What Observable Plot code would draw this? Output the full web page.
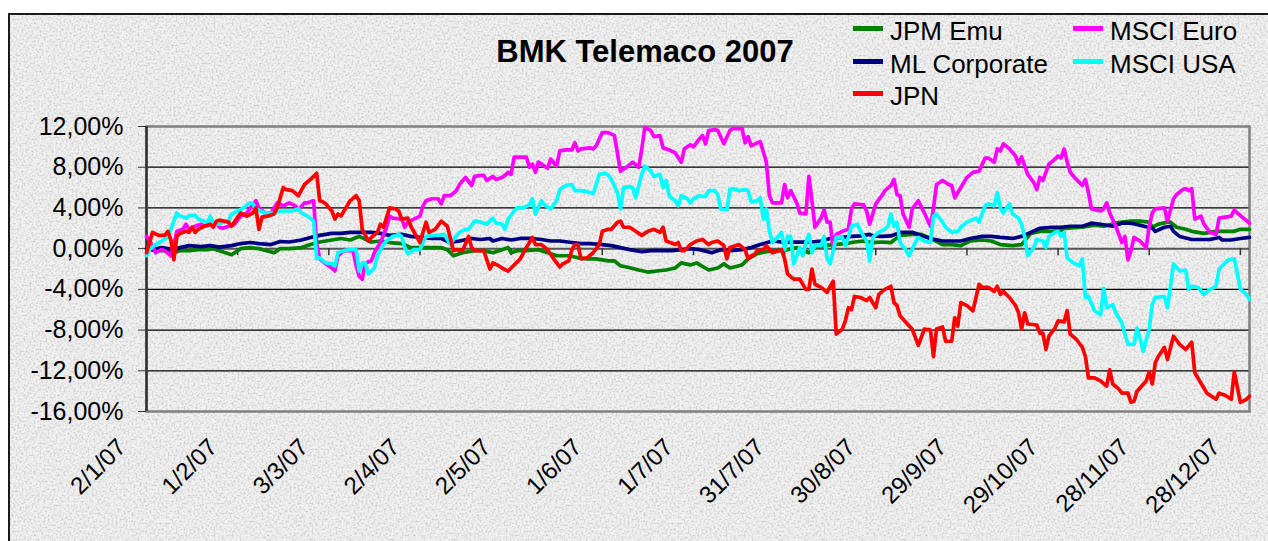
<!DOCTYPE html>
<html>
<head>
<meta charset="utf-8">
<script src="https://cdn.jsdelivr.net/npm/d3@7"></script>
<script src="https://cdn.jsdelivr.net/npm/@observablehq/plot@0.6"></script>
<style>
html, body { margin: 0; padding: 0; background: #fff; overflow: hidden; }
#wrap { position: relative; width: 1268px; height: 541px; overflow: hidden; font-family: "Liberation Sans", Arial, sans-serif; }
#bg { position: absolute; left: 8px; top: 13px; width: 1320px; height: 600px; border-left: 2px solid #1a1a1a; border-top: 2px solid #1a1a1a; background-color: #e6e6e6; overflow: hidden; }
#bg svg { display: block; }
#chart { position: absolute; left: 0; top: 0; }
#title { position: absolute; left: 0; width: 1290px; top: 36px; text-align: center; font-weight: bold; font-size: 31px; line-height: 31px; color: #000; }
.legline { position: absolute; width: 30px; height: 5px; }
.legtext { position: absolute; font-size: 26px; line-height: 26px; color: #000; white-space: nowrap; }
</style>
</head>
<body>
<div id="wrap">
  <div id="bg">
    <svg xmlns="http://www.w3.org/2000/svg" width="1320" height="600">
      <filter id="granite" x="0" y="0" width="100%" height="100%">
        <feTurbulence type="fractalNoise" baseFrequency="0.5" numOctaves="3" seed="11"/>
        <feColorMatrix type="matrix" values="0 0 0 0 0.62  0 0 0 0 0.62  0 0 0 0 0.62  0 0 0 2.6 -1.08"/>
      </filter>
      <rect width="1320" height="600" fill="#f2f2f2"/>
      <rect width="1320" height="600" filter="url(#granite)"/>
    </svg>
  </div>
  <div id="chart"></div>
  <div id="title"></div>
  <div id="legend"></div>
</div>
<script>
// ---------------- DATA ----------------
const chartTitle = "BMK Telemaco 2007";
const startDate = "2007-01-02"; // day 0 of the series below
const xTickLabels = ["2/1/07","1/2/07","3/3/07","2/4/07","2/5/07","1/6/07","1/7/07","31/7/07","30/8/07","29/9/07","29/10/07","28/11/07","28/12/07"];
const yTicks = [-16, -12, -8, -4, 0, 4, 8, 12];
const lastDay = 363;

// [day offset from startDate, cumulative return %]
const jpmEmu = [[0,0],[3,-0.2],[7,-0.2],[9,-0.4],[11,-0.2],[14,-0.2],[17,-0.1],[20,-0.1],[22,0],[25,-0.3],[28,-0.6],[31,0],[34,0.1],[37,0],[42,-0.4],[44,0],[47,0],[51,0.1],[54,0.4],[57,0.65],[61,0.85],[64,1.0],[67,0.85],[70,1.2],[74,0.65],[77,0.75],[80,0.6],[84,0.5],[87,0.1],[90,0.1],[94,0.1],[97,0.1],[99,-0.1],[101,-0.7],[104,-0.4],[108,-0.2],[111,-0.2],[114,-0.4],[117,-0.1],[119,0.1],[120,-0.4],[122,-0.2],[125,-0.2],[129,-0.1],[132,-0.4],[135,-0.7],[139,-0.7],[142,-0.9],[145,-1.0],[148,-1.0],[152,-1.2],[154,-1.2],[156,-1.7],[158,-1.8],[162,-2.1],[165,-2.3],[168,-2.2],[171,-2.1],[174,-1.9],[176,-1.4],[179,-1.6],[181,-1.4],[185,-2.1],[188,-1.9],[190,-1.5],[192,-1.9],[196,-1.6],[198,-1.0],[201,-0.5],[204,-0.3],[208,-0.2],[211,-0.1],[214,0.1],[218,-0.4],[220,0.1],[223,0.3],[226,0.4],[230,0.5],[233,0.65],[236,0.75],[239,0.6],[242,0.65],[245,0.6],[248,1.3],[252,1.4],[255,1.4],[258,1.0],[262,0.4],[265,0.4],[268,0.3],[271,0.75],[275,0.85],[278,0.75],[281,0.4],[285,0.3],[288,0.4],[291,1.5],[294,1.7],[298,1.7],[301,1.8],[302,2.0],[308,2.1],[312,2.3],[315,2.2],[319,2.5],[321,2.6],[324,2.7],[327,2.7],[330,2.6],[331,2.1],[333,2.4],[336,2.6],[337,2.6],[339,2.1],[342,1.9],[344,1.7],[346,1.6],[348,1.5],[352,1.7],[355,1.7],[358,1.7],[360,1.9],[363,1.9]];

const mlCorporate = [[0,0],[2,-0.1],[5,0.1],[7,0],[9,-0.1],[11,0.1],[14,0.3],[18,0.2],[21,0.3],[24,0.15],[28,0.3],[31,0.5],[34,0.6],[37,0.5],[41,0.4],[44,0.7],[47,0.65],[51,0.85],[54,1.1],[57,1.3],[61,1.5],[64,1.5],[67,1.6],[71,1.6],[74,1.6],[77,1.5],[80,1.3],[84,1.4],[87,1.2],[90,1.1],[94,1.0],[97,1.0],[100,0.6],[103,0.75],[107,1.0],[110,0.9],[113,1.0],[114,0.75],[117,1.0],[120,0.85],[123,1.0],[127,1.0],[130,0.9],[133,0.75],[136,0.75],[140,0.6],[143,0.5],[146,0.5],[150,0.4],[153,0.3],[156,0.1],[159,-0.1],[163,-0.3],[166,-0.2],[169,-0.2],[173,-0.2],[176,-0.1],[179,0],[182,-0.1],[186,-0.4],[189,-0.1],[192,-0.2],[196,-0.1],[199,0.1],[202,0.4],[206,0.75],[209,0.65],[212,0.65],[215,0.65],[219,0.65],[222,0.75],[225,1.0],[229,1.1],[232,1.2],[235,1.25],[238,1.4],[239,1.25],[242,1.2],[245,1.25],[248,1.6],[252,1.6],[255,1.3],[258,1.0],[262,0.75],[265,0.75],[268,0.75],[271,1.0],[275,1.2],[278,1.2],[281,1.1],[285,1.0],[288,1.2],[291,1.6],[294,2.0],[298,2.1],[301,2.1],[304,2.2],[308,2.2],[311,2.5],[314,2.4],[318,2.2],[321,2.5],[324,2.5],[327,2.3],[331,2.0],[332,1.7],[335,2.1],[337,2.2],[338,1.7],[340,1.2],[344,0.9],[347,0.9],[350,0.9],[353,1.1],[354,0.85],[357,0.85],[360,1.0],[363,1.1]];

const msciEuro = [[0,1.2],[1,0.85],[3,-0.4],[5,-0.1],[6,-0.2],[8,-0.7],[9,0.4],[10,1.7],[12,1.9],[13,2.4],[14,1.9],[16,2.2],[18,2.4],[19,2.2],[22,2.4],[23,2.5],[24,2.1],[25,2.0],[27,2.2],[29,2.4],[31,3.2],[33,3.5],[34,3.9],[36,4.7],[37,4.0],[39,3.5],[41,3.5],[43,4.5],[45,4.2],[47,4.5],[49,4.2],[50,3.8],[52,4.5],[53,4.5],[55,4.7],[56,0.5],[57,-1.0],[59,-1.5],[61,-1.9],[62,-2.2],[63,-0.7],[65,-0.2],[67,-0.2],[68,-0.2],[69,-1.7],[70,-2.7],[71,-3.0],[72,-1.4],[74,-1.2],[75,-0.4],[77,0.6],[79,2.1],[80,3.2],[81,3.0],[84,2.9],[85,2.1],[86,2.6],[88,2.9],[90,3.2],[91,4.2],[92,4.7],[94,4.9],[96,4.9],[97,4.4],[98,5.2],[100,5.2],[102,5.7],[103,6.3],[105,7.0],[107,6.2],[108,7.1],[110,7.2],[111,7.2],[112,6.7],[114,7.1],[115,6.8],[117,7.0],[118,7.2],[119,7.5],[120,7.3],[121,9.0],[123,9.0],[125,9.0],[126,8.0],[127,8.3],[128,7.5],[129,8.5],[131,8.1],[132,7.9],[133,8.8],[135,8.1],[136,9.6],[138,9.7],[140,9.7],[141,10.4],[142,9.6],[143,9.8],[146,9.9],[147,9.8],[148,10.1],[150,11.4],[152,11.4],[154,11.1],[156,7.6],[158,8.0],[160,8.5],[162,8.0],[163,9.8],[164,11.9],[166,11.6],[167,11.0],[169,11.1],[170,9.9],[172,9.7],[174,9.4],[176,8.5],[177,9.8],[179,10.2],[180,10.0],[182,10.8],[183,11.1],[184,10.3],[185,11.6],[187,11.7],[188,11.6],[190,10.3],[192,11.6],[193,11.8],[196,11.8],[197,10.4],[198,11.0],[199,10.1],[201,10.4],[202,10.5],[204,8.5],[205,5.2],[206,4.5],[209,4.5],[210,6.3],[211,5.0],[212,5.7],[214,4.5],[215,3.5],[217,3.4],[218,7.1],[219,4.7],[220,2.1],[222,3.0],[223,3.8],[224,2.6],[225,2.6],[226,-0.1],[227,1.4],[229,1.7],[231,1.9],[232,3.9],[233,4.4],[236,4.3],[237,3.7],[238,2.4],[240,4.4],[242,5.2],[243,5.7],[245,6.2],[246,6.8],[247,5.3],[248,5.2],[249,3.4],[251,2.1],[252,3.9],[254,4.7],[256,3.5],[258,2.2],[259,4.0],[260,6.3],[262,6.7],[264,6.3],[265,6.2],[266,5.0],[268,6.0],[270,7.0],[272,7.5],[274,7.6],[276,8.9],[277,8.9],[279,8.5],[280,9.8],[281,9.6],[282,10.3],[284,9.8],[286,9.1],[287,8.3],[288,9.0],[290,7.3],[292,6.5],[293,5.8],[294,7.0],[295,6.7],[297,8.3],[299,8.8],[300,9.1],[301,8.9],[302,9.8],[303,8.5],[304,7.5],[306,6.8],[308,6.2],[309,6.8],[310,5.5],[311,3.9],[314,3.7],[315,3.9],[316,4.5],[317,3.5],[319,2.2],[321,0.6],[322,1.2],[323,-1.1],[324,-0.2],[325,1.1],[327,0.75],[329,0.1],[330,2.2],[331,3.5],[332,3.9],[335,4.0],[336,2.7],[338,4.9],[339,5.3],[341,5.8],[342,5.9],[343,5.7],[344,5.9],[345,2.9],[347,3.2],[348,2.4],[350,1.6],[352,1.4],[353,3.0],[355,3.1],[357,3.2],[358,3.8],[359,3.5],[361,3.0],[363,2.5]];

const msciUsa = [[0,-0.7],[1,-0.1],[3,0.4],[5,0.75],[7,1.1],[8,1.9],[10,3.5],[11,3.2],[13,3.0],[14,3.2],[16,3.3],[17,2.9],[19,2.7],[20,2.5],[21,3.2],[22,2.4],[24,2.4],[25,2.6],[27,2.7],[28,3.4],[30,3.7],[32,4.0],[34,4.5],[35,4.4],[36,3.9],[39,3.5],[42,3.5],[44,3.7],[46,3.7],[48,3.7],[50,3.9],[51,3.5],[53,3.2],[55,2.7],[56,-1.0],[57,-0.9],[59,-1.4],[61,-1.5],[62,-1.7],[63,-0.4],[65,-0.2],[67,-0.1],[69,-0.1],[70,-2.2],[71,-1.4],[72,-1.4],[73,-2.5],[75,-1.9],[76,-0.7],[78,0.4],[79,0.75],[81,1.2],[83,1.4],[84,1.2],[85,0.1],[86,-0.5],[88,-0.1],[90,-0.1],[91,0.6],[92,1.2],[95,1.3],[96,1.3],[98,1.4],[100,0.4],[101,0.9],[103,1.6],[105,1.9],[106,1.9],[108,2.7],[110,2.6],[112,2.4],[114,3.0],[115,2.5],[117,2.4],[118,1.9],[119,2.9],[121,3.7],[122,4.0],[124,4.0],[126,4.3],[127,4.9],[128,3.4],[130,4.7],[131,4.3],[133,3.9],[135,4.7],[136,5.8],[138,6.2],[140,6.3],[141,5.7],[143,5.7],[145,5.6],[147,5.4],[148,6.3],[149,7.3],[151,7.4],[152,7.2],[153,6.8],[155,5.5],[156,3.9],[157,6.0],[159,6.1],[160,6.0],[161,5.0],[163,7.3],[164,8.1],[166,7.6],[167,7.1],[169,7.3],[170,6.0],[171,6.7],[172,5.2],[174,4.7],[175,4.2],[176,5.2],[178,4.9],[179,4.5],[180,4.9],[182,5.2],[184,5.1],[185,5.7],[187,5.7],[188,5.3],[189,3.9],[191,3.8],[192,5.8],[193,5.9],[195,5.7],[197,5.8],[198,5.7],[199,4.6],[201,4.7],[202,5.0],[203,2.9],[204,3.9],[205,1.7],[206,0.6],[208,1.2],[209,1.6],[210,-0.1],[211,1.2],[212,1.2],[213,-1.5],[215,0.1],[216,-0.7],[217,0.6],[218,1.4],[219,-0.4],[220,0.3],[222,0.3],[223,1.2],[224,-1.0],[225,-1.5],[227,1.1],[229,1.1],[230,0.3],[231,1.1],[232,2.2],[234,2.4],[235,1.7],[237,0.75],[238,-1.2],[239,1.1],[241,1.6],[243,1.9],[244,2.2],[245,3.4],[246,2.2],[247,2.6],[248,0.6],[250,-0.2],[251,-0.7],[253,0.6],[254,1.1],[256,0.75],[258,0.6],[259,3.2],[260,3.4],[262,2.6],[263,2.1],[265,1.6],[267,1.7],[268,2.1],[270,2.6],[273,3.0],[274,2.6],[276,4.2],[277,4.4],[279,4.2],[280,5.5],[281,4.0],[282,3.5],[284,4.4],[285,3.4],[287,3.0],[288,2.4],[289,1.2],[290,-0.7],[292,0.1],[293,0.9],[295,0.75],[296,0.1],[297,1.2],[299,1.6],[300,1.7],[301,1.2],[302,1.6],[303,-0.9],[305,-1.4],[307,-1.7],[308,-1.0],[309,-4.8],[310,-4.7],[312,-6.1],[313,-6.3],[314,-6.5],[315,-3.9],[316,-5.8],[318,-5.5],[319,-6.3],[321,-7.3],[322,-8.4],[323,-9.4],[325,-9.4],[326,-7.8],[327,-8.8],[328,-10.1],[330,-7.9],[331,-5.5],[332,-4.8],[335,-4.7],[336,-5.8],[337,-3.7],[338,-1.5],[340,-2.2],[342,-2.1],[343,-4.0],[344,-3.7],[346,-3.8],[348,-4.5],[350,-4.0],[352,-3.7],[353,-2.0],[354,-1.7],[356,-1.1],[358,-1.0],[359,-2.4],[360,-4.0],[362,-4.5],[363,-5.0]];

const jpn = [[0,-0.4],[2,1.6],[4,1.3],[6,1.3],[7,1.7],[8,0.9],[9,-1.1],[10,1.2],[11,1.5],[13,1.7],[14,1.6],[15,2.1],[16,1.6],[17,1.9],[19,2.2],[21,2.4],[22,2.1],[23,2.7],[24,2.8],[27,2.6],[28,2.2],[30,3.1],[31,3.5],[33,3.2],[35,3.5],[36,4.0],[37,1.9],[38,3.1],[40,3.2],[42,3.4],[43,4.0],[45,6.0],[46,5.8],[48,5.7],[50,5.2],[52,6.3],[54,6.8],[56,7.4],[57,4.7],[58,4.6],[59,4.4],[61,3.7],[62,2.9],[63,3.4],[64,3.2],[66,4.2],[67,4.7],[69,5.2],[70,4.7],[71,1.9],[73,0.75],[74,1.1],[76,1.6],[77,2.4],[78,2.1],[80,4.0],[82,3.9],[83,3.7],[84,2.9],[86,3.0],[87,2.2],[90,0.6],[92,2.6],[93,1.6],[95,1.9],[97,2.7],[99,2.2],[101,-0.2],[102,-0.1],[104,-0.2],[106,1.2],[107,0.1],[108,-0.2],[111,-0.2],[113,-2.0],[114,-1.4],[116,-1.7],[117,-1.9],[119,-2.2],[120,-1.9],[123,-1.0],[125,0.1],[127,1.1],[128,0.4],[130,0.4],[132,-0.1],[134,-1.0],[136,-1.8],[137,-1.5],[139,-1.2],[140,-0.1],[141,0.4],[142,0.4],[143,-1.0],[145,-0.9],[147,-0.4],[149,0.4],[150,1.7],[152,1.9],[153,1.9],[155,2.6],[156,2.7],[157,2.1],[159,2.1],[160,1.9],[163,1.3],[165,1.7],[167,1.9],[169,1.6],[170,2.1],[171,0.75],[174,0.4],[175,0.6],[176,-0.2],[177,-0.2],[179,0.4],[181,0.75],[183,0.9],[185,0.4],[186,0.6],[188,0.75],[190,0.3],[191,-1.0],[192,0.1],[194,0.3],[195,0.4],[197,-0.1],[198,-1.0],[199,-0.7],[200,-0.6],[201,-0.2],[203,-0.1],[204,0.3],[206,-0.4],[208,-0.2],[209,-0.1],[210,-1.0],[211,-2.5],[213,-3.0],[215,-3.0],[217,-4.0],[218,-4.0],[219,-2.0],[220,-3.5],[222,-3.8],[224,-4.3],[225,-3.7],[226,-3.2],[227,-8.4],[229,-7.9],[230,-7.1],[231,-5.8],[232,-6.0],[233,-4.7],[235,-4.8],[237,-5.1],[238,-4.8],[240,-5.8],[241,-4.5],[243,-4.0],[245,-3.7],[246,-5.3],[247,-5.6],[248,-6.6],[251,-7.6],[252,-7.9],[254,-9.5],[256,-7.9],[258,-8.0],[259,-10.6],[260,-7.9],[262,-7.7],[263,-9.1],[265,-9.1],[266,-6.8],[267,-7.6],[268,-5.3],[270,-5.6],[272,-6.1],[274,-3.5],[275,-3.8],[277,-3.8],[279,-4.2],[280,-3.7],[281,-4.5],[282,-4.2],[284,-4.8],[286,-5.6],[287,-6.3],[288,-7.9],[289,-6.3],[290,-7.4],[293,-7.5],[294,-8.3],[295,-8.3],[296,-9.9],[297,-8.6],[299,-7.8],[300,-7.1],[302,-7.2],[303,-6.1],[304,-8.4],[306,-8.9],[308,-9.7],[309,-10.6],[310,-12.7],[312,-12.7],[314,-13.0],[316,-13.5],[317,-11.9],[318,-13.3],[320,-13.8],[321,-14.2],[323,-14.2],[324,-15.1],[325,-15.0],[326,-14.0],[329,-13.0],[330,-12.1],[331,-13.3],[332,-11.2],[333,-10.6],[335,-9.7],[336,-10.9],[338,-8.6],[340,-9.4],[342,-9.9],[344,-9.2],[345,-12.2],[347,-13.2],[349,-14.2],[352,-14.8],[353,-14.2],[355,-14.4],[357,-14.8],[358,-12.1],[360,-15.1],[362,-14.8],[363,-14.5]];

// legend order (row-wise, two columns) and colours
const legendNames = ["JPM Emu", "MSCI Euro", "ML Corporate", "MSCI USA", "JPN"];
const legendColors = ["#008000", "#ff00ff", "#000080", "#00ffff", "#ff0000"];
// drawing order (last on top)
const drawOrder = ["JPM Emu", "ML Corporate", "MSCI Euro", "MSCI USA", "JPN"];
const seriesByName = {"JPM Emu": jpmEmu, "ML Corporate": mlCorporate, "MSCI Euro": msciEuro, "MSCI USA": msciUsa, "JPN": jpn};

// ---------------- HELPERS ----------------
const t0 = Date.parse(startDate + "T00:00:00Z");
const toDate = d => new Date(t0 + d * 864e5);
const parseLabel = s => { const [d, m, y] = s.split("/").map(Number); return new Date(Date.UTC(2000 + y, m - 1, d)); };
const tickDates = xTickLabels.map(parseLabel);
const fmtPct = v => v.toFixed(2).replace(".", ",") + "%";
const colorOf = name => legendColors[legendNames.indexOf(name)];

// ---------------- PLOT ----------------
const innerGrid = yTicks.filter(v => v !== 0 && v !== yTicks[0] && v !== yTicks[yTicks.length - 1]);

const chart = Plot.plot({
  width: 1268,
  height: 541,
  marginLeft: 146,
  marginRight: 19,
  marginTop: 126,
  marginBottom: 130,
  style: { background: "transparent", fontFamily: "'Liberation Sans', Arial, sans-serif", color: "#000", overflow: "visible" },
  x: { type: "utc", domain: [toDate(0), toDate(lastDay)], axis: null },
  y: { domain: [yTicks[0], yTicks[yTicks.length - 1]], axis: null },
  marks: [
    Plot.ruleY(innerGrid, { y: d => d, stroke: "#000", strokeWidth: 1.3 }),
    Plot.frame({ stroke: "#808080", strokeWidth: 2.5 }),
    Plot.ruleY([0], { y: d => d, stroke: "#555", strokeWidth: 2 }),
    Plot.ruleX(tickDates, { x: d => d, y1: 0, y2: 0, insetBottom: -7, stroke: "#333", strokeWidth: 1.5 }),
    Plot.ruleX([toDate(0)], { x: d => d, stroke: "#333", strokeWidth: 2.5 }),
    Plot.axisY(yTicks, { tickFormat: fmtPct, tickSize: 8, tickPadding: 15, fontSize: 25, stroke: "#333", label: null }),
    Plot.text(xTickLabels, {
      x: parseLabel, text: d => d, frameAnchor: "bottom", rotate: -45, textAnchor: "end",
      dx: -19, dy: 37, fontSize: 24, fill: "#000"
    }),
    ...drawOrder.map(name => Plot.line(seriesByName[name], {
      x: d => toDate(d[0]), y: d => d[1], stroke: colorOf(name), strokeWidth: 3.7, strokeLinejoin: "round"
    }))
  ]
});
document.getElementById("chart").appendChild(chart);

// ---------------- TITLE & LEGEND ----------------
document.getElementById("title").textContent = chartTitle;
const legend = document.getElementById("legend");
const colX = [[853, 890], [1073, 1110]];
legendNames.forEach((name, i) => {
  const col = i % 2, row = Math.floor(i / 2);
  const baseline = 40 + row * 32.6;
  const ln = document.createElement("div");
  ln.className = "legline";
  ln.style.left = colX[col][0] + "px";
  ln.style.top = (baseline - 14) + "px";
  ln.style.background = legendColors[i];
  legend.appendChild(ln);
  const tx = document.createElement("div");
  tx.className = "legtext";
  tx.style.left = colX[col][1] + "px";
  tx.style.top = (baseline - 22) + "px";
  tx.textContent = name;
  legend.appendChild(tx);
});
</script>
</body>
</html>
